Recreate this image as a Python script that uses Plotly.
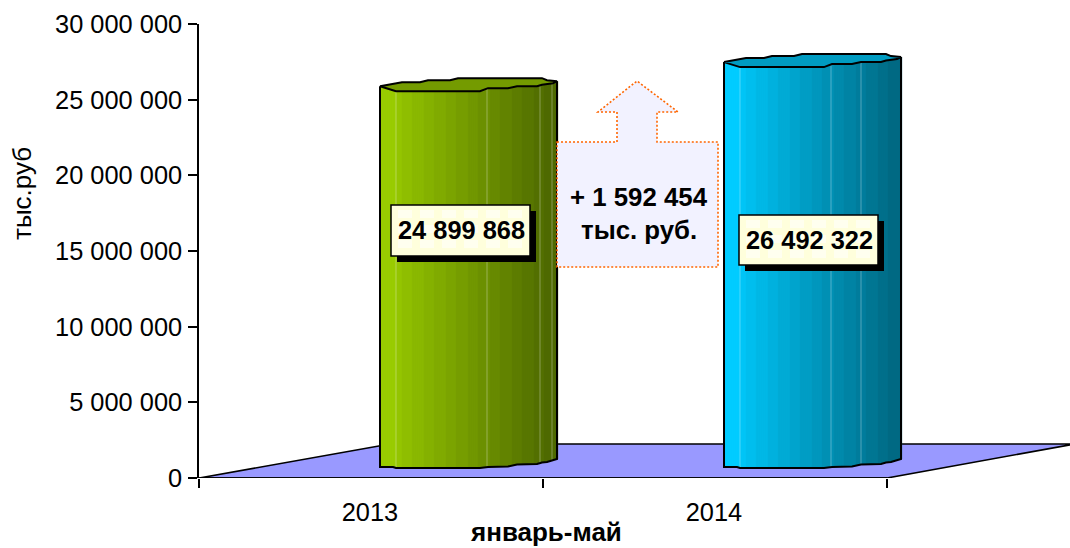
import numpy as np
import plotly.graph_objects as go

# ---- data ----
categories = ["2013", "2014"]
values = [24899868, 26492322]
value_labels = ["24 899 868", "26 492 322"]
y_ticks = [0, 5000000, 10000000, 15000000, 20000000, 25000000, 30000000]
y_tick_labels = ["0", "5 000 000", "10 000 000", "15 000 000", "20 000 000", "25 000 000", "30 000 000"]
difference_lines = ["+ 1 592 454", "тыс. руб."]
x_title = "январь-май"
y_title = "тыс.руб"

# ---- styles / scales ----
W, H = 1070, 548
L, T, B = 199, 24, 478
PX_X = 344.0
PX_Y = (B - T) / 30e6
FONT = "Liberation Sans, Arial, sans-serif"
TICK_SIZE = 25.4
LABEL_SIZE = 25.4

def X(p):
    return (p - L) / PX_X

def Y(p):
    return (B - p) / PX_Y

def DY(p):
    return p / PX_Y

RANGE_X = [0, (W - L) / PX_X]
BASE_OFFSET = DY(10)
CYL_LEFT = 181
CYL_W = 177
FRONT_TOP = [(0, 5), (16, 0), (100, 0), (108, 3), (128, 3), (137, 5), (157, 5), (162, 6.5), (173, 8), (177, 10)]
BACK_TOP = [(0, 5), (10, 7), (22, 9), (40, 9), (48, 11), (70, 11), (78, 13), (162, 13), (167, 11), (177, 10)]
BOTTOM = [(0, 1), (13, 1), (16, 0), (100, 0), (108, 1), (128, 1.5), (137, 3.5), (157, 4), (162, 5.5), (167, 6), (177, 9)]
BASE_RGB = [(153, 204, 0), (0, 204, 255)]
TOP_SHADE = 0.76
HIGHLIGHTS = [[16, 107, 160, 172], [16, 107, 137]]
LABEL_BOX = [(391, 205, 530, 256), (739, 215, 878, 265)]
SHADOW = 6
ARROW = [(557, 142), (617, 142), (617, 112), (598, 112), (637, 81), (678, 112), (657, 112),
         (657, 142), (718, 142), (718, 267), (557, 267)]
FLOOR = [(199, 478), (887, 478), (1075, 444), (390, 444)]

def path(points):
    return "M" + "L".join(f"{X(a)},{Y(b)}" for a, b in points) + "Z"

fig = go.Figure()
shapes = []
annotations = []

# floor and base line
shapes.append(dict(type="path", path=path(FLOOR), xref="x", yref="y", layer="below",
                   fillcolor="#9999FF", line=dict(color="black", width=1.6)))
shapes.append(dict(type="line", xref="x", yref="y", x0=0, x1=2, y0=0, y1=0, layer="below",
                   line=dict(color="black", width=1.6)))

STEP = 2
for i, (cat, val, rgb) in enumerate(zip(categories, values, BASE_RGB)):
    left = i + (CYL_LEFT) / PX_X
    px = np.arange(0, CYL_W, STEP) + STEP / 2
    top_px = np.interp(px, *zip(*FRONT_TOP))
    bot_px = np.interp(px, *zip(*BOTTOM))
    band = np.floor(px / 11) * 11 / CYL_W
    band = np.where(px < 16, 0, band)
    cols = []
    for b in band:
        k = 1 - 0.52 * b
        cols.append("rgb(%d,%d,%d)" % tuple(c * k for c in rgb))
    front = val + BASE_OFFSET
    bases = BASE_OFFSET + DY(bot_px)
    tops = front + DY(top_px)
    fig.add_trace(go.Bar(x=left + px / PX_X, y=tops - bases, base=bases,
                         width=STEP * 1.15 / PX_X, marker=dict(color=cols, line=dict(width=0)),
                         name=cat, showlegend=False, hoverinfo="skip"))
    # pale vertical highlights
    for h in HIGHLIGHTS[i]:
        fig.add_trace(go.Scatter(
            x=[left + h / PX_X] * 2,
            y=[BASE_OFFSET + DY(np.interp(h, *zip(*BOTTOM))), front + DY(np.interp(h, *zip(*FRONT_TOP)))],
            mode="lines", line=dict(color="rgba(255,255,255,0.32)", width=1),
            showlegend=False, hoverinfo="skip"))
    # outline of body
    ox = [left + a / PX_X for a, _ in BOTTOM]
    oy = [BASE_OFFSET + DY(b) for _, b in BOTTOM]
    ox = [ox[0]] + ox + [ox[-1]]
    oy = [front + DY(FRONT_TOP[0][1])] + oy + [front + DY(FRONT_TOP[-1][1])]
    fig.add_trace(go.Scatter(x=ox, y=oy, mode="lines", line=dict(color="black", width=2),
                             showlegend=False, hoverinfo="skip"))
    # top cap
    cap = FRONT_TOP + BACK_TOP[::-1]
    top_col = "rgb(%d,%d,%d)" % tuple(c * TOP_SHADE for c in rgb)
    fig.add_trace(go.Scatter(x=[left + a / PX_X for a, _ in cap], y=[front + DY(b) for _, b in cap],
                             mode="lines", fill="toself", fillcolor=top_col,
                             line=dict(color="black", width=2), showlegend=False, hoverinfo="skip"))
    # value label box
    x0, y0, x1, y1 = LABEL_BOX[i]
    shapes.append(dict(type="rect", xref="x", yref="y", x0=X(x0 + SHADOW), x1=X(x1 + SHADOW),
                       y0=Y(y0 + SHADOW), y1=Y(y1 + SHADOW), fillcolor="black", line=dict(width=0)))
    shapes.append(dict(type="rect", xref="x", yref="y", x0=X(x0), x1=X(x1), y0=Y(y0), y1=Y(y1),
                       fillcolor="#FFFFDC", line=dict(color="black", width=1.5)))
    # soft pale blotches of the label's texture
    for r in range(3):
        for c in range(6):
            bx = x0 + 7 + c * 22
            by = y0 + 5 + r * 15
            shapes.append(dict(type="rect", xref="x", yref="y", x0=X(bx), x1=X(bx + 14), y0=Y(by), y1=Y(by + 8),
                               fillcolor="rgba(255,255,255,0.55)", line=dict(width=0)))
    annotations.append(dict(x=X((x0 + x1) / 2 + 1), y=Y((y0 + y1) / 2 - 0.5), xref="x", yref="y",
                            text=f"<b>{value_labels[i]}</b>", showarrow=False,
                            font=dict(family=FONT, size=LABEL_SIZE, color="black")))

# difference arrow
shapes.append(dict(type="path", path=path(ARROW), xref="x", yref="y", fillcolor="#F2F2FF",
                   line=dict(color="#FF6600", width=1.6, dash="2px,2px")))
for line, py in zip(difference_lines, [197, 230]):
    annotations.append(dict(x=X(639), y=Y(py), xref="x", yref="y", text=f"<b>{line}</b>", showarrow=False,
                            font=dict(family=FONT, size=LABEL_SIZE + 0.4, color="black")))

# axis titles: paper coordinates are relative to the plot area
PW, PH = W - L, B - T
annotations.append(dict(x=(22 - L) / PW, y=(B - 194) / PH, xref="paper", yref="paper", text=y_title, textangle=-90,
                        xanchor="center", yanchor="middle",
                        showarrow=False, font=dict(family=FONT, size=26, color="black")))
annotations.append(dict(x=(546 - L) / PW, y=(B - 532) / PH, xref="paper", yref="paper", text=f"<b>{x_title}</b>",
                        xanchor="center", yanchor="middle",
                        showarrow=False, font=dict(family=FONT, size=26, color="black")))

fig.update_layout(
    width=W, height=H, margin=dict(l=L, r=0, t=T, b=H - B, pad=0),
    paper_bgcolor="white", plot_bgcolor="rgba(0,0,0,0)", barmode="overlay",
    showlegend=False, shapes=shapes, annotations=annotations,
    font=dict(family=FONT, color="black"),
    xaxis=dict(range=RANGE_X, showgrid=False, zeroline=False, showline=False,
               tickmode="array", tickvals=[k + 0.497 for k in range(len(categories))], ticktext=categories,
               ticks="", tickfont=dict(family=FONT, size=TICK_SIZE), ticklabelstandoff=17,
               minor=dict(tickmode="array", tickvals=[0, 1, 2], ticks="outside", ticklen=9,
                          tickwidth=1.5, tickcolor="black", showgrid=False)),
    yaxis=dict(range=[0, 30e6], showgrid=False, zeroline=False, showline=True, linecolor="black", linewidth=1.5,
               tickmode="array", tickvals=y_ticks, ticktext=y_tick_labels, ticks="outside", ticklen=9,
               ticklabelstandoff=1,
               tickwidth=1.5, tickcolor="black", tickfont=dict(family=FONT, size=TICK_SIZE)),
)
fig.write_html("out.html", config=dict(displayModeBar=False),
               post_script="document.body.style.margin='0';document.body.style.overflow='hidden';")
